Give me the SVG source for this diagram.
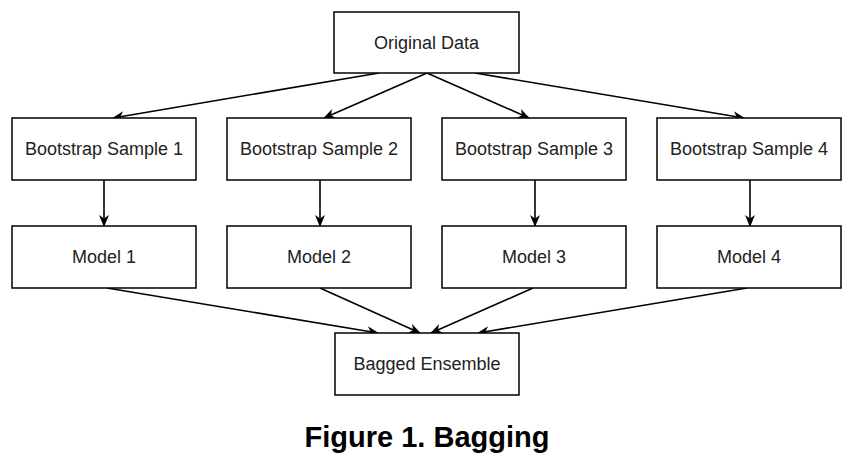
<svg xmlns="http://www.w3.org/2000/svg" width="862" height="456" viewBox="0 0 862 456">
<style>
.box{fill:#fff;stroke:#000;stroke-width:1.5}
.lbl{font-family:"Liberation Sans",Arial,sans-serif;font-size:18px;fill:#222;text-anchor:middle;dominant-baseline:central}
.edge{fill:none;stroke:#000;stroke-width:1.6;marker-end:url(#arr)}
.title{font-family:"Liberation Sans",Arial,sans-serif;font-size:29px;font-weight:bold;fill:#000;text-anchor:middle}
</style>
<defs>
<marker id="arr" viewBox="0 0 12 10" refX="11" refY="5" markerWidth="12" markerHeight="10" markerUnits="userSpaceOnUse" orient="auto">
<path d="M0,0 L12,5 L0,10 L3.5,5 Z" fill="#000"/>
</marker>
</defs>
<rect width="862" height="456" fill="#fff"/>
<g id="connectors">
<path class="edge" d="M379,73 L113,118"/>
<path class="edge" d="M427,73 L324,118"/>
<path class="edge" d="M427,73 L529,118"/>
<path class="edge" d="M475,73 L744,118"/>
<path class="edge" d="M104,180 L104,226"/>
<path class="edge" d="M320,180 L320,226"/>
<path class="edge" d="M535,180 L535,226"/>
<path class="edge" d="M750,180 L750,226"/>
<path class="edge" d="M107,288 L378,333"/>
<path class="edge" d="M320,288 L420,333"/>
<path class="edge" d="M533,288 L431,333"/>
<path class="edge" d="M747,288 L478,333"/>
</g>
<g id="original"><rect class="box" x="334" y="12" width="185" height="61"/><text class="lbl" x="426.5" y="42.5">Original Data</text></g>
<g id="bs1"><rect class="box" x="12" y="118" width="184" height="62"/><text class="lbl" x="104" y="149">Bootstrap Sample 1</text></g>
<g id="bs2"><rect class="box" x="227" y="118" width="184" height="62"/><text class="lbl" x="319" y="149">Bootstrap Sample 2</text></g>
<g id="bs3"><rect class="box" x="442" y="118" width="184" height="62"/><text class="lbl" x="534" y="149">Bootstrap Sample 3</text></g>
<g id="bs4"><rect class="box" x="657" y="118" width="184" height="62"/><text class="lbl" x="749" y="149">Bootstrap Sample 4</text></g>
<g id="m1"><rect class="box" x="12" y="226" width="184" height="62"/><text class="lbl" x="104" y="257">Model 1</text></g>
<g id="m2"><rect class="box" x="227" y="226" width="184" height="62"/><text class="lbl" x="319" y="257">Model 2</text></g>
<g id="m3"><rect class="box" x="442" y="226" width="184" height="62"/><text class="lbl" x="534" y="257">Model 3</text></g>
<g id="m4"><rect class="box" x="657" y="226" width="184" height="62"/><text class="lbl" x="749" y="257">Model 4</text></g>
<g id="bagged"><rect class="box" x="335" y="333" width="184" height="62"/><text class="lbl" x="427" y="364">Bagged Ensemble</text></g>
<text class="title" x="427" y="447">Figure 1. Bagging</text>
</svg>
